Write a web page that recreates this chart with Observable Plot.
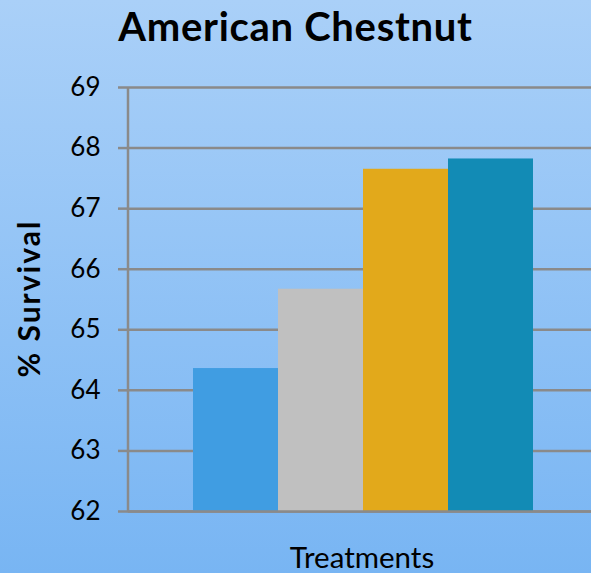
<!DOCTYPE html>
<html>
<head>
<meta charset="utf-8">
<script src="https://cdn.jsdelivr.net/npm/d3@7"></script>
<script src="https://cdn.jsdelivr.net/npm/@observablehq/plot@0.6"></script>
<style>
  html, body { margin: 0; padding: 0; }
  body {
    width: 591px; height: 573px; overflow: hidden;
    background: linear-gradient(to bottom, #aad0f8 0%, #78b5f3 100%);
    font-family: Lato, "Open Sans", sans-serif;
  }
  #title {
    height: 50px; line-height: 52px; text-align: center;
    font-size: 40px; font-weight: bold; color: #000;
    letter-spacing: 0.7px;
  }
  svg { display: block; background: transparent; }
</style>
</head>
<body>
<div id="title">American Chestnut</div>
<div id="chart"></div>
<script>
const treatments = ["Treatment 1", "Treatment 2", "Treatment 3", "Treatment 4"];
const survival = [64.36, 65.67, 67.65, 67.82];
const barColors = ["#409de2", "#c0c0c0", "#e2a91b", "#128bb5"];
const yTicks = [62, 63, 64, 65, 66, 67, 68, 69];
const yDomain = [62, 69];
const yLabel = "% Survival";
const xLabel = "Treatments";

const data = treatments.map((t, i) => ({treatment: t, value: survival[i], color: barColors[i]}));
const gridColor = "#8a8a8a";

const chart = Plot.plot({
  width: 591,
  height: 523,
  marginTop: 37,
  marginBottom: 62,
  marginLeft: 128,
  marginRight: 0,
  style: {background: "transparent", fontFamily: "Lato, 'Open Sans', sans-serif", color: "#000"},
  x: {type: "band", domain: treatments, range: [128, 597], paddingInner: 0, paddingOuter: 0.75, axis: null},
  y: {domain: yDomain, ticks: yTicks},
  marks: [
    Plot.ruleY(yTicks, {stroke: gridColor, strokeWidth: 2.5}),
    Plot.barY(data, {x: "treatment", y1: yDomain[0], y2: "value", fill: "color", inset: 0}),
    Plot.ruleY([yDomain[0]], {stroke: gridColor, strokeWidth: 2.5}),
    (index, scales, values, dimensions) => {
      const y0 = scales.y(yDomain[0]) + 1.25, y1 = scales.y(yDomain[1]);
      const xl = dimensions.marginLeft;
      return d3.create("svg:line")
        .attr("x1", xl).attr("x2", xl).attr("y1", y0).attr("y2", y1)
        .attr("stroke", gridColor).attr("stroke-width", 2.5).node();
    },
    Plot.axisY({ticks: yTicks, tickSize: 10, tickPadding: 18, stroke: gridColor, strokeWidth: 2.5,
      fontSize: 26, label: null, tickFormat: d => String(d)}),
    Plot.text([yLabel], {frameAnchor: "left", rotate: -90, dx: -98, dy: -1, text: d => d,
      fontSize: 30, fontWeight: "bold", textAnchor: "middle", lineAnchor: "middle", fill: "#000"}),
    Plot.text([xLabel], {frameAnchor: "bottom", dy: 47, dx: 2, text: d => d,
      fontSize: 29.5, textAnchor: "middle", lineAnchor: "middle", fill: "#000"})
  ]
});
d3.select(chart).selectAll("text").filter(function() { return this.textContent === yLabel; })
  .style("letter-spacing", "2px");
document.getElementById("chart").appendChild(chart);
</script>
</body>
</html>
